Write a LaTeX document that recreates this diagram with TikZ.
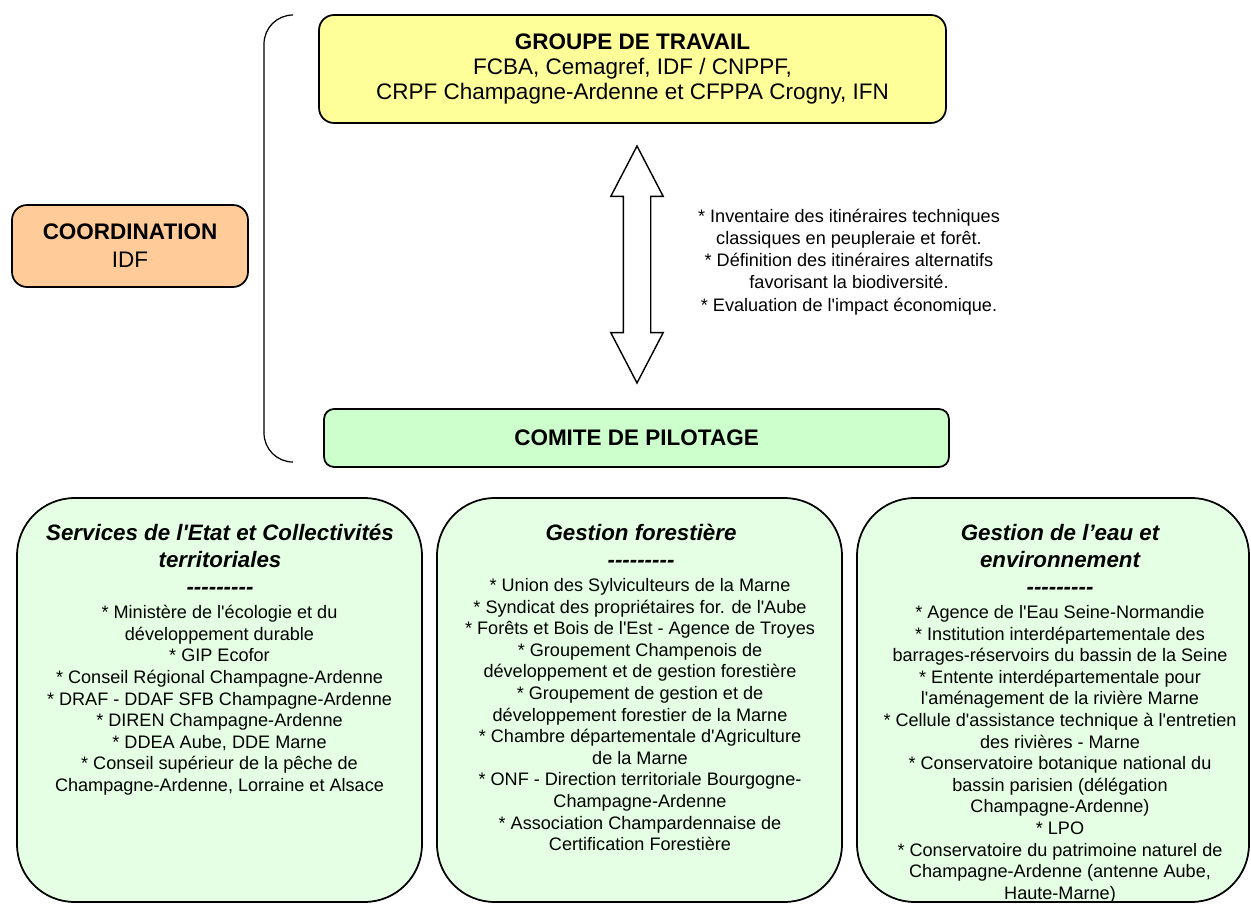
\documentclass[tikz,border=0pt]{standalone}
\usepackage{fontspec}
\newfontfamily\arial{Liberation Sans}
\usepackage{tikz}
\usetikzlibrary{shapes,shapes.arrows}

\definecolor{jaune}{HTML}{FFFF99}
\definecolor{saumon}{HTML}{FFCC99}
\definecolor{vert}{HTML}{CCFFCC}
\definecolor{vertpale}{HTML}{E5FFE5}

\begin{document}
\begin{tikzpicture}[x=0.02cm,y=-0.02cm,
        boite/.style={draw=black,line width=1pt,rounded corners=3mm,inner sep=0,align=center},
        gros/.style={font=\arial\fontsize{12.8}{14.4}\selectfont},
        petit/.style={font=\arial\fontsize{10.3}{12.3}\selectfont},
        titre/.style={font=\arial\bfseries\itshape\fontsize{12.7}{15.35}\selectfont,align=center,inner sep=0,anchor=north},
        liste/.style={petit,align=center,inner sep=0},
        collectif/.style={boite,fill=vertpale,rounded corners=11.5mm,minimum height=8.08cm}]
        \useasboundingbox (0,0) rectangle (1251,903);
        % haut
        \node[boite,fill=jaune,gros,minimum width=12.54cm,minimum height=2.16cm] (gt) at (632.5,69)
          {\textbf{GROUPE DE TRAVAIL}\\FCBA, Cemagref, IDF / CNPPF,\\CRPF Champagne-Ardenne et CFPPA Crogny, IFN};
        \node[boite,fill=saumon,gros,minimum width=4.72cm,minimum height=1.64cm,
          font=\arial\fontsize{12.8}{15.9}\selectfont] (co) at (130,246) {\textbf{COORDINATION}\\IDF};
        \node[boite,fill=vert,gros,rounded corners=2mm,minimum width=12.5cm,minimum height=1.16cm] (cp) at (636.5,438)
          {\textbf{COMITE DE PILOTAGE}};
        \draw[line width=0.7pt,rounded corners=5.8mm] (293,15) -- (264,15) -- (264,462) -- (293,462);
        % fleche
        \node[double arrow,draw,fill=white,line width=0.8pt,rotate=90,inner xsep=0,inner ysep=2.6mm,minimum height=4.74cm,
          minimum width=10.2mm,double arrow head extend=2.5mm,double arrow tip angle=55] (fl) at (637,264.5) {};
        \node[liste,font=\arial\fontsize{10.3}{12.6}\selectfont] (ta) at (849,262)
          {* Inventaire des itinéraires techniques\\classiques en peupleraie et forêt.\\{}* Définition des itinéraires alternatifs\\favorisant la biodiversité.\\{}* Evaluation de l'impact économique.};
        % bas
        \node[collectif,minimum width=8.1cm] (s1) at (219.5,700) {};
        \node[collectif,minimum width=8.1cm] (s2) at (639.5,700) {};
        \node[collectif,minimum width=7.84cm] (s3) at (1053,700) {};
        \node[titre] (h1) at (220,524) {Services de l'Etat et Collectivités\\territoriales\\---------};
        \node[titre] (h2) at (641,524) {Gestion forestière\\---------};
        \node[titre] (h3) at (1060,524) {Gestion de l’eau et\\environnement\\---------};
        \node[liste,anchor=north] (l1) at (219.5,605)
          {* Ministère de l'écologie et du\\développement durable\\{}* GIP Ecofor\\{}* Conseil Régional Champagne-Ardenne\\{}* DRAF - DDAF SFB Champagne-Ardenne\\{}* DIREN Champagne-Ardenne\\{}* DDEA Aube, DDE Marne\\{}* Conseil supérieur de la pêche de\\Champagne-Ardenne, Lorraine et Alsace};
        \node[liste,anchor=north] (l2) at (640,578)
          {* Union des Sylviculteurs de la Marne\\{}* Syndicat des propriétaires for. de l'Aube\\{}* Forêts et Bois de l'Est - Agence de Troyes\\{}* Groupement Champenois de\\développement et de gestion forestière\\{}* Groupement de gestion et de\\développement forestier de la Marne\\{}* Chambre départementale d'Agriculture\\de la Marne\\{}* ONF - Direction territoriale Bourgogne-\\Champagne-Ardenne\\{}* Association Champardennaise de\\Certification Forestière};
        \node[liste,anchor=north] (l3) at (1060,605)
          {* Agence de l'Eau Seine-Normandie\\{}* Institution interdépartementale des\\barrages-réservoirs du bassin de la Seine\\{}* Entente interdépartementale pour\\l'aménagement de la rivière Marne\\{}* Cellule d'assistance technique à l'entretien\\des rivières - Marne\\{}* Conservatoire botanique national du\\bassin parisien (délégation\\Champagne-Ardenne)\\{}* LPO\\{}* Conservatoire du patrimoine naturel de\\Champagne-Ardenne (antenne Aube,\\Haute-Marne)};
      \end{tikzpicture}
\end{document}
